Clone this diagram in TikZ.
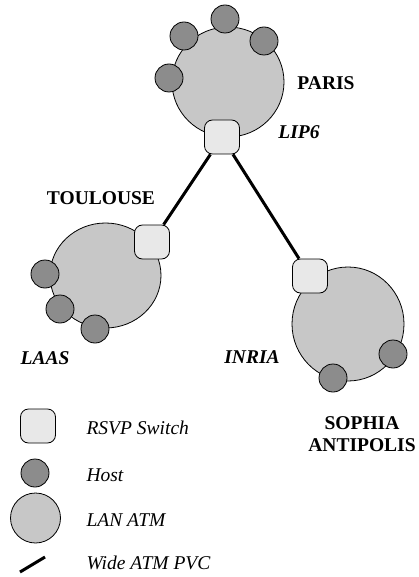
\documentclass[tikz,border=0pt]{standalone}
\usepackage{fontspec}
\setmainfont{Liberation Serif}
\usetikzlibrary{positioning}

\tikzset{
	lan/.style={draw=black, line width=0.8pt, fill=black!22},
	host/.style={circle, draw=black, line width=0.8pt, fill=black!45, minimum size=28pt, inner sep=0pt},
	rsvp/.style={rectangle, rounded corners=8pt, draw=black, line width=0.8pt, fill=black!9, minimum width=35pt, minimum height=34pt, inner sep=0pt},
	pvc/.style={line width=3pt},
	city/.style={font=\fontsize{19.5}{22}\selectfont\bfseries, align=center},
	site/.style={font=\fontsize{19.5}{22}\selectfont\bfseries\itshape},
	legend/.style={font=\fontsize{19.5}{22}\selectfont\itshape, anchor=west},
}

\begin{document}
\begin{tikzpicture}[x=1pt, y=-1pt]
		%%%%% START %%%%%
		\useasboundingbox (0, 0) rectangle (419, 577);
		
		% LAN ATM
		\draw[lan] (228, 82) ellipse (56pt and 55pt);
		\draw[lan] (105.5, 275.5) ellipse (55.5pt and 52.5pt);
		\draw[lan] (348, 324) ellipse (56pt and 57pt);
		
		% hosts
		\node[host] (parisA) at (225, 19) {};
		\node[host] (parisB) at (184, 36) {};
		\node[host] (parisC) at (264, 41) {};
		\node[host] (parisD) at (169, 78) {};
		\node[host] (toulA) at (45, 274) {};
		\node[host] (toulB) at (60, 309) {};
		\node[host] (toulC) at (95, 329) {};
		\node[host] (sophA) at (393, 354) {};
		\node[host] (sophB) at (333, 378) {};
		
		% RSVP switches and PVCs
		\node[rsvp] (lip6) at (222, 137) {};
		\node[rsvp] (laas) at (152, 242) {};
		\node[rsvp] (inria) at (310, 276) {};
		\draw[pvc] (lip6) -- (laas);
		\draw[pvc] (lip6) -- (inria);
		
		% labels
		\node[city] (paris) at (326, 83) {PARIS};
		\node[site] (lip6lbl) at (299, 132) {LIP6};
		\node[city] (toulouse) at (101, 198) {TOULOUSE};
		\node[site] (laaslbl) at (45, 358) {LAAS};
		\node[site] (inrialbl) at (252, 357) {INRIA};
		\node[city] (sophia) at (362, 434) {SOPHIA\\ANTIPOLIS};
		
		% legend
		\node[rsvp] (lgswitch) at (38, 426) {};
		\node[legend] (lgswitchtxt) at (83, 428) {RSVP Switch};
		\node[host] (lghost) at (35, 473) {};
		\node[legend] (lghosttxt) at (83, 475) {Host};
		\draw[lan] (35.5, 518) circle (25pt);
		\node[legend] (lglantxt) at (83, 520) {LAN ATM};
		\coordinate (lgpvcA) at (20, 572);
		\coordinate (lgpvcB) at (45, 557);
		\draw[pvc] (lgpvcA) -- (lgpvcB);
		\node[legend] (lgpvctxt) at (83, 563) {Wide ATM PVC};
		
		%%%%% END %%%%%
	\end{tikzpicture}
\end{document}
